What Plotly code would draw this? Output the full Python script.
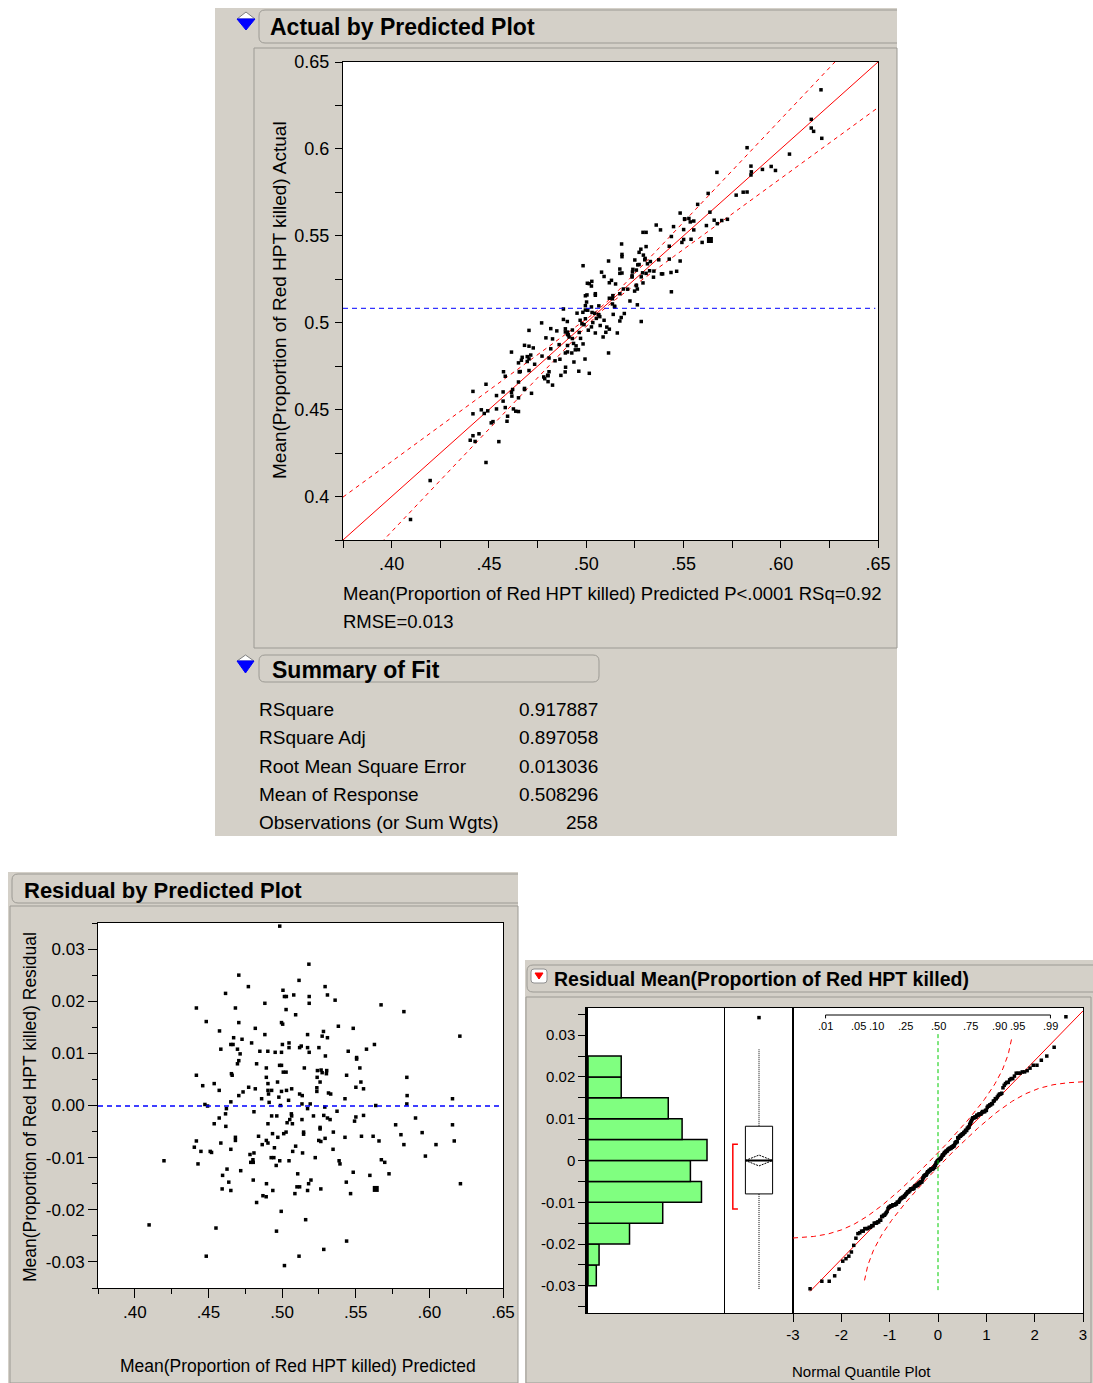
from statistics import NormalDist

import numpy as np
import plotly.graph_objects as go

W, H = 1093, 1383
FONT = "Liberation Sans, Arial, sans-serif"
PANEL = "#d4d0c8"
EDGE = "#9c9a94"

# ---- values ----
predicted = [
    .4984, .5182, .4706, .5115, .4771, .5292, .5006, .4616, .5079, .5016, .5029, .5308, .5184, .5360,
    .4883, .5184, .5672, .4418, .4683, .5027, .5827, .5092, .4485, .4996, .5004, .4706, .5382, .5483,
    .4818, .4575, .5281, .5173, .4883, .6207, .5272, .5308, .4671, .4728, .4793, .5047, .4652, .4667,
    .5002, .5627, .5130, .5119, .5047, .5250, .5173, .4584, .4697, .5449, .5573, .4849, .4903, .4953,
    .4996, .5184, .4715, .5294, .5506, .5506, .4706, .4697, .4827, .4983, .4996, .4893, .5151, .5528,
    .5240, .5265, .5008, .5027, .5303, .5272, .5301, .4656, .4661, .4418, .5438, .5847, .4893, .5238,
    .5258, .4969, .5535, .4539, .4904, .4461, .5501, .4773, .4818, .5065, .5236, .4573, .4904, .4929,
    .5030, .5553, .4735, .4996, .5236, .5315, .5330, .4908, .5119, .5137, .4706, .5849, .4978, .4861,
    .4652, .5044, .5427, .6157, .4912, .5135, .5191, .4476, .4494, .5847, .5636, .4989, .5173, .4622,
    .5290, .5373, .4809, .5063, .4616, .5213, .5553, .4929, .4964, .5283, .5065, .4573, .5308, .5326,
    .5906, .5052, .5135, .5501, .5492, .5034, .5070, .4539, .4904, .4618, .5771, .5258, .5258, .6157,
    .5146, .5146, .4935, .5027, .5011, .5348, .5951, .5807, .4840, .4971, .5427, .5539, .5618, .5292,
    .4683, .4683, .4893, .4904, .5249, .5263, .5658, .6169, .4584, .4418, .4404, .4865, .6045, .5827,
    .5092, .4948, .5346, .4652, .4449, .4512, .4521, .5072, .4809, .5139, .4782, .5973, .4926, .4944,
    .5225, .4960, .4802, .4787, .4804, .5674, .5697, .4198, .4984, .5047, .5387, .5393, .4429, .5726,
    .4626, .4719, .5106, .5483, .5596, .4596, .4804, .5196, .5180, .5436, .4638, .4894, .6211, .5119,
    .5101, .4593, .4652, .5173, .5263, .4937, .5087, .5465, .4870, .4892, .4827, .4994, .4097,
    .4551, .4962, .5160, .5438, .5283, .4485, .5115, .5016,
]
residual = [
    .0344, .0271, .0250, .0240, .0228, .0228, .0221, .0215, .0212, .0209, .0209, .0212, .0209, .0202,
    .0196, .0196, .0193, .0187, .0187, .0184, .0180, .0174, .0161, .0159, .0156, .0159, .0152, .0148,
    .0148, .0143, .0142, .0136, .0136, .0133, .0133, .0130, .0130, .0127, .0120, .0120, .0117, .0117,
    .0117, .0117, .0114, .0111, .0111, .0111, .0111, .0108, .0108, .0104, .0108, .0104, .0104, .0102,
    .0102, .0102, .0099, .0095, .0092, .0089, .0086, .0080, .0080, .0077, .0077, .0072, .0072, .0072,
    .0067, .0068, .0064, .0064, .0067, .0063, .0061, .0061, .0058, .0058, .0058, .0054, .0054, .0054,
    .0045, .0045, .0045, .0042, .0042, .0038, .0035, .0035, .0032, .0032, .0034, .0029, .0029, .0029,
    .0029, .0032, .0026, .0027, .0027, .0024, .0022, .0022, .0022, .0019, .0019, .0019, .0016, .0013,
    .0007, .0010, .0013, .0013, .0006, .0003, .0003, .0002, -.0001, .0003, .0000, .0000, -.0006, -.0006,
    -.0003, -.0011, -.0012, -.0016, -.0016, -.0020, -.0019, -.0020, -.0020, -.0019, -.0020, -.0024, -.0024, -.0027,
    -.0024, -.0027, -.0027, -.0022, -.0030, -.0033, -.0035, -.0035, -.0035, -.0040, -.0037, -.0042, -.0045, -.0037,
    -.0051, -.0055, -.0054, -.0051, -.0054, -.0051, -.0052, -.0056, -.0059, -.0061, -.0061, -.0059, -.0059, -.0063,
    -.0061, -.0067, -.0067, -.0072, -.0067, -.0069, -.0068, -.0068, -.0072, -.0068, -.0080, -.0075, -.0075, -.0075,
    -.0078, -.0081, -.0084, -.0084, -.0088, -.0088, -.0090, -.0088, -.0091, -.0091, -.0094, -.0097, -.0100, -.0100,
    -.0100, -.0115, -.0104, -.0109, -.0109, -.0104, -.0109, -.0106, -.0106, -.0106, -.0106, -.0112, -.0112, -.0131,
    -.0122, -.0125, -.0131, -.0128, -.0134, -.0134, -.0143, -.0143, -.0150, -.0147, -.0147, -.0150, -.0150, -.0156,
    -.0156, -.0160, -.0163, -.0163, -.0160, -.0163, -.0169, -.0169, -.0173, -.0175, -.0186, -.0203, -.0229,
    -.0235, -.0241, -.0219, -.0260, -.0276, -.0289, -.0289, -.0307,
]
# a heavier marker where several rows overlap
heavy_predicted = [0.5636]
heavy_residual = [-0.0160]

mean_response = 0.508296
band_half_at_mean = 0.0012   # confidence curves of the fit
band_slope = 0.185

summary_labels = ["RSquare", "RSquare Adj", "Root Mean Square Error",
                  "Mean of Response", "Observations (or Sum Wgts)"]
summary_values = ["0.917887", "0.897058", "0.013036", "0.508296", "258"]

hist_bin_lo = [-0.030, -0.025, -0.020, -0.015, -0.010, -0.005, 0.000, 0.005, 0.010, 0.015, 0.020]
hist_counts = [3, 4, 15, 27, 41, 37, 43, 34, 29, 12, 12]
hist_bin_w = 0.005

box_q1, box_median, box_q3 = -0.0080, 0.0000, 0.0082
whisker_lo, whisker_hi = -0.0308, 0.0266
box_outliers = [0.0342]
resid_mean, mean_ci = 0.0, 0.0013
shortest_half = [-0.0116, 0.0039]

prob_levels = [0.01, 0.05, 0.10, 0.25, 0.50, 0.75, 0.90, 0.95, 0.99]
prob_labels = [".01", ".05", ".10", ".25", ".50", ".75", ".90", ".95", ".99"]

quantile_ticks = [-3, -2, -1, 0, 1, 2, 3]


def X(v):
    return v / W


def Y(v):
    return 1 - v / H


def rrect(x0, y0, x1, y1, r=6, fill=PANEL, line=EDGE):
    p = (f"M {X(x0 + r)},{Y(y0)} L {X(x1 - r)},{Y(y0)} Q {X(x1)},{Y(y0)} {X(x1)},{Y(y0 + r)} "
         f"L {X(x1)},{Y(y1 - r)} Q {X(x1)},{Y(y1)} {X(x1 - r)},{Y(y1)} "
         f"L {X(x0 + r)},{Y(y1)} Q {X(x0)},{Y(y1)} {X(x0)},{Y(y1 - r)} "
         f"L {X(x0)},{Y(y0 + r)} Q {X(x0)},{Y(y0)} {X(x0 + r)},{Y(y0)} Z")
    return dict(type="path", path=p, xref="paper", yref="paper", fillcolor=fill,
                line=dict(color=line, width=1), layer="below")


def rect(x0, y0, x1, y1, fill=None, line=None):
    return dict(type="rect", xref="paper", yref="paper", x0=X(x0), x1=X(x1), y0=Y(y1), y1=Y(y0),
                fillcolor=fill or "rgba(0,0,0,0)",
                line=dict(color=line or "rgba(0,0,0,0)", width=1), layer="below")


def tri(pts, fill, line):
    p = "M " + " L ".join(f"{X(a)},{Y(b)}" for a, b in pts) + " Z"
    return dict(type="path", path=p, xref="paper", yref="paper", fillcolor=fill,
                line=dict(color=line, width=1), layer="above")


def note(text, x, y, size, anchor="left", bold=False, angle=0):
    return dict(text=f"<b>{text}</b>" if bold else text, x=X(x), y=Y(y), xref="paper", yref="paper",
                xanchor=anchor, yanchor="middle", showarrow=False, textangle=angle,
                font=dict(family=FONT, size=size, color="black"))


def frame_axis(x0, x1, rng, anchor, **kw):
    d = dict(domain=[x0, x1], range=rng, anchor=anchor, showline=True, linecolor="black",
             linewidth=1, mirror=True, showgrid=False, zeroline=False, ticks="",
             showticklabels=False, fixedrange=True, automargin=False)
    d.update(kw)
    return d


def tick_style(size, length=7):
    return dict(ticks="outside", ticklen=length, tickcolor="black", showticklabels=True,
                tickfont=dict(family=FONT, size=size, color="black"))


def minor(t0, step, length=7):
    return dict(ticks="outside", ticklen=length, tickcolor="black", tick0=t0, dtick=step)


actual = [p + r for p, r in zip(predicted, residual)]
heavy_actual = [p + r for p, r in zip(heavy_predicted, heavy_residual)]

fig = go.Figure()
dots = dict(symbol="square", size=3.5, color="black", line=dict(width=0))
red = "#ff0000"
blue = "#0000ff"

# ---- actual by predicted ----
grid = np.linspace(0.375, 0.65, 111)
half = np.sqrt(band_half_at_mean ** 2 + (band_slope * (grid - mean_response)) ** 2)
fig.add_trace(go.Scatter(x=grid, y=grid, mode="lines", line=dict(color=red, width=1), xaxis="x", yaxis="y"))
for sgn in (1, -1):
    fig.add_trace(go.Scatter(x=grid, y=grid + sgn * half, mode="lines",
                             line=dict(color=red, width=1, dash="4px,4px"), xaxis="x", yaxis="y"))
fig.add_trace(go.Scatter(x=predicted, y=actual, mode="markers", marker=dots, xaxis="x", yaxis="y"))
fig.add_trace(go.Scatter(x=heavy_predicted, y=heavy_actual, mode="markers",
                         marker=dict(dots, size=6), xaxis="x", yaxis="y"))

# ---- residual by predicted ----
fig.add_trace(go.Scatter(x=predicted, y=residual, mode="markers", marker=dots, xaxis="x2", yaxis="y2"))
fig.add_trace(go.Scatter(x=heavy_predicted, y=heavy_residual, mode="markers",
                         marker=dict(dots, size=6), xaxis="x2", yaxis="y2"))

# ---- histogram ----
fig.add_trace(go.Bar(y=[b + hist_bin_w / 2 for b in hist_bin_lo], x=hist_counts, orientation="h",
                     width=hist_bin_w, marker=dict(color="#80ff80", line=dict(color="black", width=1.5)),
                     xaxis="x3", yaxis="y3"))

# ---- outlier box plot ----
fig.add_trace(go.Scatter(x=[0.5, 0.5], y=[box_q3, whisker_hi], mode="lines",
                         line=dict(color="black", width=1, dash="1px,1px"), xaxis="x4", yaxis="y4"))
fig.add_trace(go.Scatter(x=[0.5, 0.5], y=[box_q1, whisker_lo], mode="lines",
                         line=dict(color="black", width=1, dash="1px,1px"), xaxis="x4", yaxis="y4"))
fig.add_trace(go.Scatter(x=[0.3, 0.7, 0.7, 0.3, 0.3], y=[box_q1, box_q1, box_q3, box_q3, box_q1],
                         mode="lines", line=dict(color="black", width=1), fill="toself",
                         fillcolor="white", xaxis="x4", yaxis="y4"))
fig.add_trace(go.Scatter(x=[0.3, 0.5, 0.7, 0.5, 0.3], y=[resid_mean, resid_mean + mean_ci, resid_mean,
                                                       resid_mean - mean_ci, resid_mean],
                         mode="lines", line=dict(color="black", width=1, dash="2px,1px"),
                         xaxis="x4", yaxis="y4"))
fig.add_trace(go.Scatter(x=[0.3, 0.7], y=[resid_mean, resid_mean], mode="lines",
                         line=dict(color="black", width=2), xaxis="x4", yaxis="y4"))
fig.add_trace(go.Scatter(x=[0.19, 0.115, 0.115, 0.19],
                         y=[shortest_half[1], shortest_half[1], shortest_half[0], shortest_half[0]],
                         mode="lines", line=dict(color=red, width=1.5), xaxis="x4", yaxis="y4"))
fig.add_trace(go.Scatter(x=[0.5] * len(box_outliers), y=box_outliers, mode="markers", marker=dots,
                         xaxis="x4", yaxis="y4"))

# ---- normal quantile plot ----
nd = NormalDist()
rs = sorted(residual)
n = len(rs)
zq = [nd.inv_cdf((i + 1) / (n + 1)) for i in range(n)]
mu, sd = float(np.mean(rs)), float(np.std(rs, ddof=1))
fig.add_trace(go.Scatter(x=[zq[0], 3], y=[mu + sd * zq[0], mu + sd * 3], mode="lines",
                         line=dict(color=red, width=1), xaxis="x5", yaxis="y5"))
d = 0.886 / np.sqrt(n)
zz = np.linspace(-3, 3, 301)
pp = np.array([nd.cdf(v) for v in zz])
for sgn in (1, -1):
    q = pp + sgn * d
    ok = (q > 0.006) & (q < 0.994)
    fig.add_trace(go.Scatter(x=zz[ok], y=[mu + sd * nd.inv_cdf(v) for v in q[ok]], mode="lines",
                             line=dict(color=red, width=1, dash="5px,4px"), xaxis="x5", yaxis="y5"))
fig.add_trace(go.Scatter(x=zq, y=rs, mode="markers", marker=dots, xaxis="x5", yaxis="y5"))

# ---- shapes: panels, title bars, plot areas ----
shapes = [
    rect(215, 8, 897, 836, fill=PANEL),
    rect(8, 872, 518, 1383, fill=PANEL),
    rect(525, 960, 1093, 1383, fill=PANEL),
    rrect(259, 10, 915, 43),
    rrect(259, 655, 599, 682),
    rrect(12, 874, 528, 903),
    rrect(527, 965, 1100, 992),
    rect(897, 0, 1093, 50, fill="white"),
    rect(518, 860, 532, 958, fill="white"),
    rect(254, 48, 897, 648, line=EDGE),
    rect(10, 906, 518, 1383, line=EDGE),
    rect(526, 997, 1091, 1383, line=EDGE),
    rect(343, 62, 878, 540, fill="white"),
    rect(98, 923, 503, 1288, fill="white"),
    rect(588, 1008, 1083, 1313, fill="white"),
    dict(type="line", xref="x domain", yref="y", x0=0, x1=0.995, y0=mean_response, y1=mean_response,
         line=dict(color=blue, width=1, dash="5px,4px")),
    dict(type="line", xref="x2 domain", yref="y2", x0=0, x1=1, y0=-0.0001, y1=-0.0001,
         line=dict(color=blue, width=1.3, dash="5px,4px")),
    dict(type="line", xref="x5", yref="y5 domain", x0=0, x1=0, y0=0.075, y1=0.92,
         line=dict(color="#00cc00", width=1, dash="4px,3px")),
    tri([(237, 19), (255, 19), (246, 12)], "white", "#808080"),
    tri([(237, 19), (255, 19), (246, 30)], blue, blue),
    tri([(237, 661), (254, 661), (245.5, 655)], "white", "#808080"),
    tri([(237, 661), (254, 661), (245.5, 673)], blue, blue),
    rrect(531, 969, 547, 983, r=3, fill="white", line="#909090"),
    tri([(535, 973), (543, 973), (539, 979)], "#ff0000", "#ff0000"),
]
for s in shapes[-6:]:
    s["layer"] = "above"

# probability scale on top of the normal quantile plot
zp = [nd.inv_cdf(p) for p in prob_levels]
shapes.append(dict(type="line", xref="x5", yref="y5 domain", x0=zp[0], x1=zp[-1], y0=0.977, y1=0.977,
                   line=dict(color="black", width=1)))
for zv in (zp[0], zp[-1]):
    shapes.append(dict(type="line", xref="x5", yref="y5 domain", x0=zv, x1=zv, y0=0.966, y1=0.977,
                       line=dict(color="black", width=1)))

ann = [
    note("Actual by Predicted Plot", 268, 27, 23, bold=True),
    note("Summary of Fit", 270, 670, 23, bold=True),
    note("Residual by Predicted Plot", 22, 890, 22, bold=True),
    note("Residual Mean(Proportion of Red HPT killed)", 552, 979, 19.5, bold=True),
    note("Mean(Proportion of Red HPT killed) Actual", 279, 300, 19, anchor="center", angle=-90),
    note("Mean(Proportion of Red HPT killed) Predicted P&lt;.0001 RSq=0.92", 341, 594, 18.5),
    note("RMSE=0.013", 341, 622, 18.5),
    note("Mean(Proportion of Red HPT killed) Residual", 30, 1107, 17.5, anchor="center", angle=-90),
    note("Mean(Proportion of Red HPT killed) Predicted", 298, 1366, 17.5, anchor="center"),
    note("Normal Quantile Plot", 861, 1371, 15, anchor="center"),
]
for i, (lab, val) in enumerate(zip(summary_labels, summary_values)):
    ann.append(note(lab, 257, 710 + 28 * i, 19))
    ann.append(note(val, 600, 710 + 28 * i, 19, anchor="right"))
for zv, lab in zip(zp, prob_labels):
    ann.append(dict(text=lab, x=zv, y=0.94, xref="x5", yref="y5 domain", showarrow=False,
                    xanchor="center", yanchor="middle",
                    font=dict(family=FONT, size=11, color="black")))

pred_ticks = [.40, .45, .50, .55, .60, .65]
pred_text = [".40", ".45", ".50", ".55", ".60", ".65"]
res_ticks = [-.03, -.02, -.01, 0, .01, .02, .03]

fig.update_layout(
    width=W, height=H, autosize=False, margin=dict(l=0, r=0, t=0, b=0, pad=0, autoexpand=False),
    paper_bgcolor="white", plot_bgcolor="rgba(0,0,0,0)", showlegend=False,
    shapes=shapes, annotations=ann, font=dict(family=FONT, color="black"),
    xaxis=frame_axis(X(343), X(878), [0.375, 0.65], "y", **tick_style(18),
                     tickvals=pred_ticks, ticktext=pred_text, minor=minor(0.375, 0.025)),
    yaxis=frame_axis(Y(540), Y(62), [0.375, 0.65], "x", **tick_style(18), ticklabelstandoff=2,
                     tickvals=pred_ticks, ticktext=["0.4", "0.45", "0.5", "0.55", "0.6", "0.65"],
                     minor=minor(0.375, 0.025)),
    xaxis2=frame_axis(X(98), X(503), [0.375, 0.65], "y2", **tick_style(17, 9),
                      tickvals=pred_ticks, ticktext=pred_text, minor=minor(0.375, 0.025, 5)),
    yaxis2=frame_axis(Y(1288), Y(923), [-0.035, 0.035], "x2", **tick_style(17, 9),
                      tickvals=res_ticks,
                      ticktext=["-0.03", "-0.02", "-0.01", "0.00", "0.01", "0.02", "0.03"],
                      minor=minor(-0.035, 0.005, 5)),
    xaxis3=frame_axis(X(588), X(725), [0, 49.5], "y3"),
    yaxis3=frame_axis(Y(1313), Y(1008), [-0.0365, 0.0365], "x3", **tick_style(15), linewidth=2.5,
                      mirror=False, tickvals=res_ticks,
                      ticktext=["-0.03", "-0.02", "-0.01", "0", "0.01", "0.02", "0.03"],
                      minor=minor(-0.035, 0.005)),
    xaxis4=frame_axis(X(725), X(793), [0, 1], "y4"),
    yaxis4=frame_axis(Y(1313), Y(1008), [-0.0365, 0.0365], "x4"),
    xaxis5=frame_axis(X(793), X(1083), [-3, 3], "y5", **tick_style(15, 8),
                      tickvals=quantile_ticks, ticktext=[str(t) for t in quantile_ticks]),
    yaxis5=frame_axis(Y(1313), Y(1008), [-0.0365, 0.0365], "x5"),
)

fig.write_html("out.html", config={"responsive": False, "displayModeBar": False},
               post_script="document.body.style.margin='0';document.body.style.overflow='hidden';")
